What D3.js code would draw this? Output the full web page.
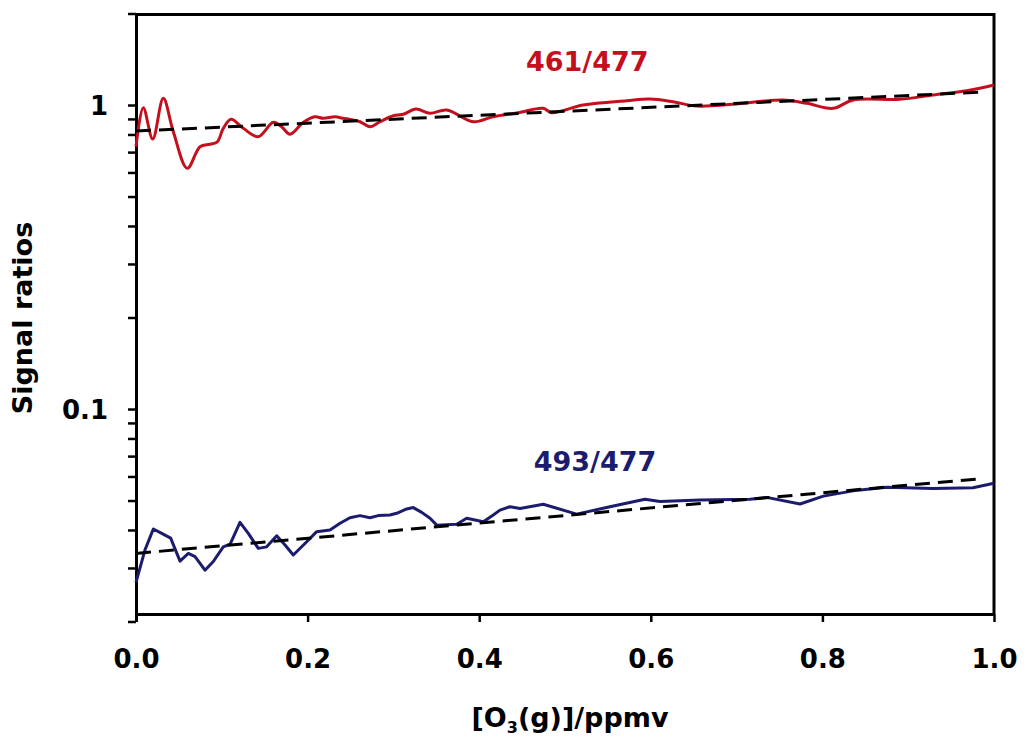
<!DOCTYPE html>
<html>
<head>
<meta charset="utf-8">
<script src="https://cdn.jsdelivr.net/npm/d3@7"></script>
<style>
  html, body { margin: 0; padding: 0; background: #fff; }
  svg { display: block; }
  text { font-family: "DejaVu Sans", Verdana, sans-serif; font-weight: bold; }
</style>
</head>
<body>
<svg id="chart" width="1032" height="740"></svg>
<script>
// Ozone concentration (ppmv) for each sample of the 461/477 ratio trace
const ozoneRed = [0, 0.0085, 0.0195, 0.0318, 0.0435, 0.0598, 0.0746, 0.0862, 0.0948, 0.1017,
  0.1107, 0.1251, 0.1425, 0.1600, 0.1698, 0.1795, 0.1950, 0.2086, 0.2183, 0.2319,
  0.2416, 0.2494, 0.2611, 0.2727, 0.2844, 0.2999, 0.3115, 0.3263, 0.3427, 0.3621,
  0.3931, 0.4161, 0.4452, 0.4744, 0.4845, 0.5210, 0.5719, 0.5991, 0.6259, 0.6535,
  0.6958, 0.7541, 0.7817, 0.8124, 0.8357, 0.8904, 0.9289, 0.9682, 1.0];
// 461/477 signal ratio
const ratio461 = [0.729, 0.980, 0.773, 1.052, 0.817, 0.619, 0.729, 0.743, 0.757, 0.838,
  0.897, 0.838, 0.787, 0.877, 0.848, 0.801, 0.877, 0.915, 0.904, 0.915,
  0.904, 0.897, 0.881, 0.848, 0.881, 0.922, 0.932, 0.970, 0.939, 0.963,
  0.881, 0.915, 0.943, 0.975, 0.943, 1.000, 1.033, 1.046, 1.025, 0.992,
  1.005, 1.039, 1.013, 0.975, 1.039, 1.044, 1.079, 1.114, 1.163];

// Ozone concentration (ppmv) for each sample of the 493/477 ratio trace
const ozoneBlue = [0, 0.0105, 0.0202, 0.0300, 0.0404, 0.0513, 0.0610, 0.0688, 0.0804, 0.0901,
  0.1017, 0.1096, 0.1212, 0.1309, 0.1425, 0.1523, 0.1640, 0.1737, 0.1833, 0.1990,
  0.2106, 0.2261, 0.2378, 0.2494, 0.2611, 0.2727, 0.2824, 0.2960, 0.3038, 0.3155,
  0.3232, 0.3330, 0.3427, 0.3505, 0.3738, 0.3854, 0.4048, 0.4164, 0.4242, 0.4359,
  0.4476, 0.4747, 0.5136, 0.5524, 0.5932, 0.6107, 0.6573, 0.7156, 0.7351, 0.7739,
  0.8011, 0.8357, 0.8749, 0.9289, 0.9755, 1.0];
// 493/477 signal ratio
const ratio493 = [0.0269, 0.0344, 0.0403, 0.0390, 0.0376, 0.0316, 0.0335, 0.0327, 0.0295, 0.0315,
  0.0352, 0.0359, 0.0424, 0.0390, 0.0348, 0.0352, 0.0383, 0.0357, 0.0331, 0.0366,
  0.0395, 0.0400, 0.0421, 0.0439, 0.0446, 0.0439, 0.0446, 0.0448, 0.0454, 0.0469,
  0.0474, 0.0457, 0.0437, 0.0415, 0.0418, 0.0437, 0.0426, 0.0448, 0.0465, 0.0477,
  0.0471, 0.0486, 0.0451, 0.0477, 0.0505, 0.0496, 0.0502, 0.0505, 0.0512, 0.0487,
  0.0517, 0.0538, 0.0553, 0.0548, 0.0551, 0.0570];

// Exponential fits (straight on the log axis): [ozone, ratio] end points
const fit461 = [[0, 0.821], [0.99, 1.104]];
const fit493 = [[0, 0.0335], [0.98, 0.0588]];

// Axis ticks
const xTicks = [0, 0.2, 0.4, 0.6, 0.8, 1.0];
const yMajorTicks = [0.1, 1];
const yTicks = [0.02, 0.03, 0.04, 0.05, 0.06, 0.07, 0.08, 0.09,
  0.1, 0.2, 0.3, 0.4, 0.5, 0.6, 0.7, 0.8, 0.9, 1, 2];

// Series labels: text and [ozone, ratio] anchor
const seriesLabels = [
  { text: "461/477", at: [0.526, 1.29], color: "#c4101e" },
  { text: "493/477", at: [0.535, 0.0625], color: "#1c1c6e" }
];

(function draw() {
  const svg = d3.select("#chart");
  const plotLeft = 136, plotRight = 994, plotTop = 13.5, plotBottom = 621.5, xAxisY = 614;

  const x = d3.scaleLinear().domain([0, 1]).range([plotLeft, plotRight]);
  const y = d3.scaleLog().domain([0.02, 2]).range([plotBottom, plotTop]);

  // Frame: top and right edges
  svg.append("path")
    .attr("d", `M${plotLeft},${plotTop + 1}H${plotRight}V${xAxisY}`)
    .attr("fill", "none").attr("stroke", "#000").attr("stroke-width", 3);

  // Y axis (log)
  const yAxis = svg.append("g")
    .attr("transform", `translate(${plotLeft},0)`)
    .call(d3.axisLeft(y).tickValues(yTicks).tickSize(8).tickSizeOuter(0)
      .tickFormat(d => yMajorTicks.includes(d) ? String(d) : ""));
  yAxis.select(".domain").attr("stroke-width", 3);
  yAxis.selectAll(".tick line").attr("stroke-width", 2.5);
  yAxis.selectAll(".tick text")
    .attr("x", -28).attr("dy", "0.36em")
    .style("font-size", "26px").attr("fill", "#000");

  // X axis
  const xAxis = svg.append("g")
    .attr("transform", `translate(0,${xAxisY})`)
    .call(d3.axisBottom(x).tickValues(xTicks).tickSize(8).tickSizeOuter(0)
      .tickFormat(d3.format(".1f")));
  xAxis.select(".domain").attr("stroke-width", 3);
  xAxis.selectAll(".tick line").attr("stroke-width", 2.5);
  xAxis.selectAll(".tick text")
    .attr("y", 54).attr("dy", null)
    .style("font-size", "26px").attr("fill", "#000");

  // Data traces
  const smooth = d3.line().x(d => x(d[0])).y(d => y(d[1])).curve(d3.curveCatmullRom.alpha(0.5));
  const straight = d3.line().x(d => x(d[0])).y(d => y(d[1]));

  svg.append("path")
    .datum(d3.zip(ozoneRed, ratio461))
    .attr("d", smooth)
    .attr("fill", "none").attr("stroke", "#c4101e").attr("stroke-width", 3)
    .attr("stroke-linejoin", "round");

  svg.append("path")
    .datum(d3.zip(ozoneBlue, ratio493))
    .attr("d", straight)
    .attr("fill", "none").attr("stroke", "#1c1c6e").attr("stroke-width", 3)
    .attr("stroke-linejoin", "round");

  // Fitted trends, dashed
  [fit461, fit493].forEach(f => {
    svg.append("path")
      .datum(f)
      .attr("d", straight)
      .attr("fill", "none").attr("stroke", "#000").attr("stroke-width", 3)
      .attr("stroke-dasharray", "15,8");
  });

  // Series labels
  seriesLabels.forEach(s => {
    svg.append("text")
      .attr("x", x(s.at[0])).attr("y", y(s.at[1]))
      .attr("text-anchor", "middle")
      .style("font-size", "27px")
      .attr("fill", s.color)
      .text(s.text);
  });

  // Axis titles
  const xTitle = svg.append("text")
    .attr("x", 570).attr("y", 727)
    .attr("text-anchor", "middle")
    .style("font-size", "27px").attr("fill", "#000");
  xTitle.append("tspan").text("[O");
  xTitle.append("tspan").attr("dy", 6).style("font-size", "16px").text("3");
  xTitle.append("tspan").attr("dy", -6).text("(g)]/ppmv");

  svg.append("text")
    .attr("transform", "translate(32,318) rotate(-90)")
    .attr("text-anchor", "middle")
    .style("font-size", "27px").attr("fill", "#000")
    .text("Signal ratios");
})();
</script>
</body>
</html>
